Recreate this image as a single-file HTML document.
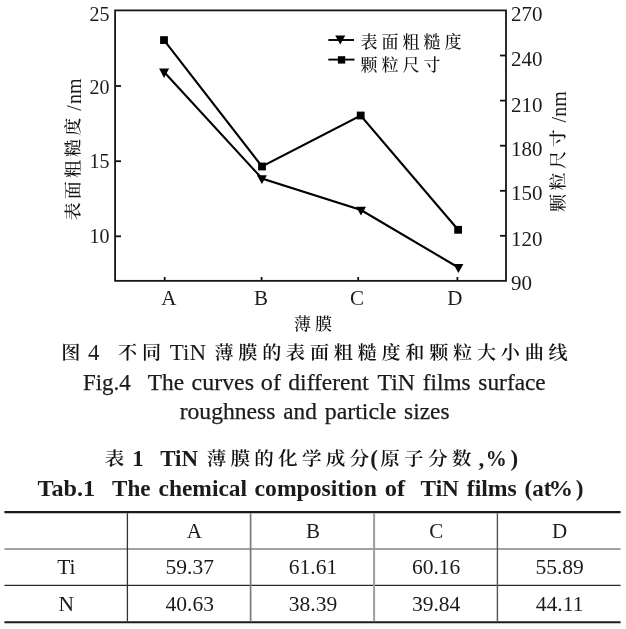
<!DOCTYPE html>
<html lang="zh">
<head>
<meta charset="utf-8">
<title>图4 不同TiN薄膜的表面粗糙度和颗粒大小曲线</title>
<style>
  html, body { margin: 0; padding: 0; background: #fff; }
  body { width: 626px; height: 629px; position: relative; overflow: hidden; }
  svg { position: absolute; left: 0; top: 0; }
  .lat { font-family: "Liberation Serif", "Noto Serif CJK SC", serif; fill: #1b1b1b; }
  .cjk { font-family: "Noto Serif CJK SC", "Liberation Serif", serif; fill: #111; font-weight: 500; }
  .b { font-weight: bold; }
  .cap { stroke: #1b1b1b; stroke-width: 0.25px; }
  table.data {
    position: absolute; left: 5px; top: 511px; width: 616px;
    border-collapse: collapse; table-layout: fixed;
    font-family: "Liberation Serif", serif; font-size: 21px; color: #1b1b1b;
    border-top: 2px solid transparent; border-bottom: 2px solid transparent;
  }
  table.data td {
    height: 36px; padding: 0; text-align: center; vertical-align: middle;
    border: 1px solid transparent; line-height: 20px;
  }
  table.data tr:first-child td { border-top: none; }
  table.data tr + tr td { height: 35px; font-size: 21.5px; }
  table.data td.ca { padding-left: 9px; }
  table.data tr.r2 td { padding-bottom: 2px; height: 33px; }
  table.data tr:last-child td { border-bottom: none; }
  table.data td:first-child { border-left: none; }
  table.data td:last-child { border-right: none; }
</style>
</head>
<body>
<svg width="626" height="629" viewBox="0 0 626 629">
  <!-- plot frame -->
  <rect x="115.1" y="10.4" width="390.9" height="270.45" fill="none" stroke="#161616" stroke-width="1.8"/>
  <!-- left ticks -->
  <g stroke="#111" stroke-width="1.8">
    <line x1="115" y1="86" x2="121" y2="86"/>
    <line x1="115" y1="161.2" x2="121" y2="161.2"/>
    <line x1="115" y1="236.3" x2="121" y2="236.3"/>
    <!-- right ticks -->
    <line x1="500" y1="55.5" x2="506" y2="55.5"/>
    <line x1="500" y1="100.6" x2="506" y2="100.6"/>
    <line x1="500" y1="145.7" x2="506" y2="145.7"/>
    <line x1="500" y1="190.8" x2="506" y2="190.8"/>
    <line x1="500" y1="235.8" x2="506" y2="235.8"/>
    <!-- bottom ticks -->
    <line x1="164.7" y1="277" x2="164.7" y2="281"/>
    <line x1="261.6" y1="277" x2="261.6" y2="281"/>
    <line x1="358.2" y1="277" x2="358.2" y2="281"/>
    <line x1="457.4" y1="277" x2="457.4" y2="281"/>
  </g>
  <!-- left tick labels -->
  <g class="lat" font-size="20" text-anchor="end">
    <text x="109.5" y="21.1">25</text>
    <text x="109.5" y="94.4">20</text>
    <text x="109.5" y="168.3">15</text>
    <text x="109.5" y="242.5">10</text>
  </g>
  <!-- right tick labels -->
  <g class="lat" font-size="21">
    <text x="511" y="21.3">270</text>
    <text x="511" y="66.2">240</text>
    <text x="511" y="111.9">210</text>
    <text x="511" y="156">180</text>
    <text x="511" y="200.3">150</text>
    <text x="511" y="245.9">120</text>
    <text x="511" y="290.2">90</text>
  </g>
  <!-- x labels -->
  <g class="lat" font-size="21" text-anchor="middle">
    <text x="168.8" y="304.6">A</text>
    <text x="260.9" y="304.6">B</text>
    <text x="357.1" y="304.6">C</text>
    <text x="454.8" y="304.6">D</text>
  </g>
  <!-- axis titles -->
  <text class="cjk" font-size="17" x="294 315" y="330">薄膜</text>
  <g transform="translate(80.5,220.5) rotate(-90)">
    <text class="cjk" font-size="17" transform="scale(1.06,1)" x="0.00 20.00 40.00 60.00 80.00" y="-1.2">表面粗糙度</text>
    <text class="lat" font-size="20" x="109.8" y="0">/</text>
    <text class="lat" font-size="20" x="116.4" y="0">nm</text>
  </g>
  <g transform="translate(565.5,212) rotate(-90)">
    <text class="cjk" font-size="17" transform="scale(1.06,1)" x="0.00 20.38 40.75 61.13" y="-1.4">颗粒尺寸</text>
    <text class="lat" font-size="20" x="89.4" y="0">/</text>
    <text class="lat" font-size="20" x="95.2" y="0">nm</text>
  </g>

  <!-- series: grain size (squares) -->
  <polyline points="164,40.1 262,166.5 360.7,115.5 458.1,229.8" fill="none" stroke="#000" stroke-width="2.1"/>
  <g fill="#000">
    <rect x="160.1" y="36.2" width="7.8" height="7.8"/>
    <rect x="258.1" y="162.6" width="7.8" height="7.8"/>
    <rect x="356.8" y="111.6" width="7.8" height="7.8"/>
    <rect x="454.2" y="225.9" width="7.8" height="7.8"/>
  </g>
  <!-- series: roughness (down triangles) -->
  <polyline points="164.1,72 262,178.5 361,210 458.4,267.5" fill="none" stroke="#000" stroke-width="2.1"/>
  <g fill="#000">
    <polygon points="159.1,68.4 169.1,68.4 164.1,78"/>
    <polygon points="256.9,175.2 266.9,175.2 261.9,183.9"/>
    <polygon points="356,206.8 366,206.8 361,215.6"/>
    <polygon points="453.4,264 463.4,264 458.4,273"/>
  </g>

  <!-- legend -->
  <line x1="328.3" y1="40" x2="354" y2="40" stroke="#000" stroke-width="1.9"/>
  <polygon points="335.2,35.6 345.3,35.6 340.25,44.6" fill="#000"/>
  <line x1="328.3" y1="59.6" x2="354.5" y2="59.6" stroke="#000" stroke-width="1.9"/>
  <rect x="337.9" y="56.2" width="7.3" height="7.4" fill="#000"/>
  <text class="cjk" font-size="17" x="360.5 381.5 402.5 423.5 444.5" y="48.1">表面粗糙度</text>
  <text class="cjk" font-size="17" x="360.5 381.5 402.5 423.5" y="71.1">颗粒尺寸</text>

  <!-- figure caption (Chinese) -->
  <text class="cjk" style="font-weight:600" transform="scale(1.035,1)" font-size="18.5" x="59.13" y="359">图</text>
  <text class="lat" font-size="22.8" x="88" y="359.7">4</text>
  <text class="cjk" style="font-weight:600" transform="scale(1.035,1)" font-size="18.5" x="114.01" y="359">不</text>
  <text class="cjk" style="font-weight:600" transform="scale(1.035,1)" font-size="18.5" x="137.20" y="359">同</text>
  <text class="lat" font-size="23" x="169.8" y="359.8">TiN</text>
  <text class="cjk" style="font-weight:600" transform="scale(1.035,1)" font-size="18.5" x="207.25 230.30 253.35 276.41 299.46 322.51 345.57 368.62 391.67 414.72 437.78 460.83 483.88 506.94 529.99" y="359">薄膜的表面粗糙度和颗粒大小曲线</text>

  <!-- figure caption (English) -->
  <text class="lat cap" font-size="23" x="82.91" y="389.7" textLength="47.81" lengthAdjust="spacingAndGlyphs">Fig.4</text>
  <text class="lat cap" font-size="23" x="147.73" y="389.7" textLength="36.28" lengthAdjust="spacingAndGlyphs">The</text>
  <text class="lat cap" font-size="23" x="191.64" y="389.7" textLength="62.39" lengthAdjust="spacingAndGlyphs">curves</text>
  <text class="lat cap" font-size="23" x="260.83" y="389.7" textLength="20.12" lengthAdjust="spacingAndGlyphs">of</text>
  <text class="lat cap" font-size="23" x="288.38" y="389.7" textLength="80.44" lengthAdjust="spacingAndGlyphs">different</text>
  <text class="lat cap" font-size="23" x="377.53" y="389.7" textLength="37.37" lengthAdjust="spacingAndGlyphs">TiN</text>
  <text class="lat cap" font-size="23" x="422.80" y="389.7" textLength="47.72" lengthAdjust="spacingAndGlyphs">films</text>
  <text class="lat cap" font-size="23" x="478.37" y="389.7" textLength="67.37" lengthAdjust="spacingAndGlyphs">surface</text>
  <text class="lat cap" font-size="23" x="179.73" y="418.6" textLength="95.70" lengthAdjust="spacingAndGlyphs">roughness</text>
  <text class="lat cap" font-size="23" x="283.29" y="418.6" textLength="33.52" lengthAdjust="spacingAndGlyphs">and</text>
  <text class="lat cap" font-size="23" x="324.74" y="418.6" textLength="71.54" lengthAdjust="spacingAndGlyphs">particle</text>
  <text class="lat cap" font-size="23" x="404.07" y="418.6" textLength="45.42" lengthAdjust="spacingAndGlyphs">sizes</text>

  <!-- table caption (Chinese) -->
  <text class="cjk" style="font-weight:600" transform="scale(1.06,1)" font-size="18.5" x="98.77" y="465">表</text>
  <text class="lat b" font-size="23" x="132.3" y="465.6">1</text>
  <text class="lat b" font-size="23" x="160.2" y="465.6">TiN</text>
  <text class="cjk" style="font-weight:600" transform="scale(1.06,1)" font-size="18.5" x="195.00 217.45 239.91 262.36 284.81 307.26 329.72" y="465">薄膜的化学成分</text>
  <text class="lat b" font-size="23" x="370.2" y="466">(</text>
  <text class="cjk" style="font-weight:600" transform="scale(1.06,1)" font-size="18.5" x="358.77 381.23 403.68 426.13" y="465">原子分数</text>
  <text class="lat b" font-size="23" x="478.6" y="465.6">,</text>
  <text class="lat b" font-size="23.8" x="485.8" y="466" textLength="21" lengthAdjust="spacingAndGlyphs">%</text>
  <text class="lat b" font-size="23" x="510.6" y="466">)</text>

  <!-- table caption (English) -->
  <text class="lat b" font-size="23.3" x="37.54" y="495.7" textLength="57.61" lengthAdjust="spacingAndGlyphs">Tab.1</text>
  <text class="lat b" font-size="23.3" x="112.05" y="495.7" textLength="38.45" lengthAdjust="spacingAndGlyphs">The</text>
  <text class="lat b" font-size="23.3" x="158.48" y="495.7" textLength="88.60" lengthAdjust="spacingAndGlyphs">chemical</text>
  <text class="lat b" font-size="23.3" x="254.57" y="495.7" textLength="122.23" lengthAdjust="spacingAndGlyphs">composition</text>
  <text class="lat b" font-size="23.3" x="384.82" y="495.7" textLength="20.38" lengthAdjust="spacingAndGlyphs">of</text>
  <text class="lat b" font-size="23.3" x="420.55" y="495.7" textLength="38.37" lengthAdjust="spacingAndGlyphs">TiN</text>
  <text class="lat b" font-size="23.3" x="466.78" y="495.7" textLength="50.03" lengthAdjust="spacingAndGlyphs">films</text>
  <text class="lat b" font-size="23.3" x="532.31" y="495.7" textLength="19.22" lengthAdjust="spacingAndGlyphs">at</text>
  <text class="lat b" font-size="23.3" x="524.4" y="495.7">(</text>
  <text class="lat b" font-size="22.8" x="548.6" y="495.5" textLength="24.6" lengthAdjust="spacingAndGlyphs">%</text>
  <text class="lat b" font-size="23.3" x="575.8" y="495.7">)</text>
  <!-- table rules -->
  <g fill="none">
    <line x1="4.4" y1="512.2" x2="620.6" y2="512.2" stroke="#1a1a1a" stroke-width="2.2"/>
    <line x1="4.4" y1="549" x2="620.6" y2="549" stroke="#a2a2a2" stroke-width="1.9"/>
    <line x1="4.4" y1="585.3" x2="620.6" y2="585.3" stroke="#2a2a2a" stroke-width="1.2"/>
    <line x1="4.4" y1="622.2" x2="620.6" y2="622.2" stroke="#1a1a1a" stroke-width="2.1"/>
    <line x1="127.4" y1="513.3" x2="127.4" y2="621.2" stroke="#333" stroke-width="1.3"/>
    <line x1="250.6" y1="513.3" x2="250.6" y2="621.2" stroke="#7a7a7a" stroke-width="1.7"/>
    <line x1="374.1" y1="513.3" x2="374.1" y2="621.2" stroke="#9e9e9e" stroke-width="2"/>
    <line x1="497.4" y1="513.3" x2="497.4" y2="621.2" stroke="#555" stroke-width="1.4"/>
  </g>
</svg>

<table class="data">
  <tr class="hd"><td></td><td class="ca">A</td><td>B</td><td>C</td><td>D</td></tr>
  <tr class="r2"><td>Ti</td><td>59.37</td><td>61.61</td><td>60.16</td><td>55.89</td></tr>
  <tr><td>N</td><td>40.63</td><td>38.39</td><td>39.84</td><td>44.11</td></tr>
</table>
</body>
</html>
